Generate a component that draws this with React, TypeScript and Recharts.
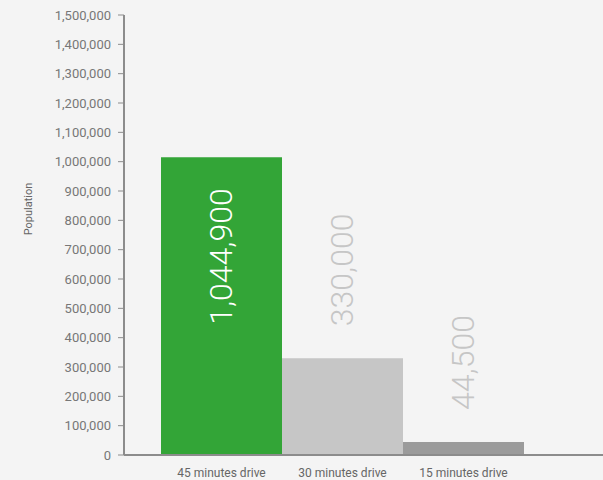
import React from 'react';
import { BarChart, Bar, XAxis, YAxis, Cell, LabelList } from 'recharts';

const categories = ['45 minutes drive', '30 minutes drive', '15 minutes drive'];
const populations = [1015000, 330000, 44500];
const valueLabels = ['1,044,900', '330,000', '44,500'];
const barColors = ['#33a537', '#c6c6c6', '#9b9b9b'];
const yTicks = [0, 100000, 200000, 300000, 400000, 500000, 600000, 700000, 800000, 900000, 1000000, 1100000, 1200000, 1300000, 1400000, 1500000];

const data = categories.map((name, i) => ({ name, value: populations[i], label: valueLabels[i] }));

const fmt = (v: number) => v.toLocaleString('en-US');

const ValueLabel = (props: any) => {
  const { x, y, width, index } = props;
  const cx = x + width / 2;
  const inside = index === 0;
  const ay = inside ? y + 31 : y - 32;
  return (
    <text
      x={cx}
      y={ay}
      transform={`rotate(-90 ${cx} ${ay})`}
      textAnchor={inside ? 'end' : 'start'}
      dominantBaseline="central"
      fill={inside ? '#ffffff' : '#c6c6c6'}
      fontSize={32}
      fontWeight={300}
      fontFamily="Roboto, sans-serif"
    >
      {valueLabels[index]}
    </text>
  );
};

export default function App() {
  return (
    <div style={{ width: 603, height: 480, background: '#f4f4f4' }}>
      <style>{'body{margin:0;background:#f4f4f4;}'}</style>
      <BarChart
        width={603}
        height={480}
        data={data}
        margin={{ top: 15, right: 0, bottom: 0, left: 0 }}
        barCategoryGap={0}
      >
        <XAxis
          dataKey="name"
          height={25}
          padding={{ left: 37, right: 79 }}
          axisLine={{ stroke: '#8c8c8c', strokeWidth: 2 }}
          tickLine={false}
          tick={{ fill: '#666', fontSize: 12, fontFamily: 'Roboto, sans-serif' }}
          tickMargin={7}
          interval={0}
        />
        <YAxis
          width={124}
          domain={[0, 1500000]}
          ticks={yTicks}
          interval={0}
          tickFormatter={fmt}
          axisLine={{ stroke: '#8c8c8c', strokeWidth: 2 }}
          tickLine={{ stroke: '#8c8c8c' }}
          tickSize={6}
          tickMargin={7}
          tick={{ fill: '#777', fontSize: 13, fontFamily: 'Roboto, sans-serif' }}
          label={{
            content: () => (
              <text
                x={28}
                y={209}
                transform="rotate(-90 28 209)"
                textAnchor="middle"
                dominantBaseline="central"
                fill="#666"
                fontSize={11}
                fontFamily="Roboto, sans-serif"
              >
                Population
              </text>
            ),
          }}
        />
        <Bar dataKey="value" isAnimationActive={false}>
          {data.map((d, i) => (
            <Cell key={d.name} fill={barColors[i]} />
          ))}
          <LabelList dataKey="label" content={ValueLabel} />
        </Bar>
      </BarChart>
    </div>
  );
}
